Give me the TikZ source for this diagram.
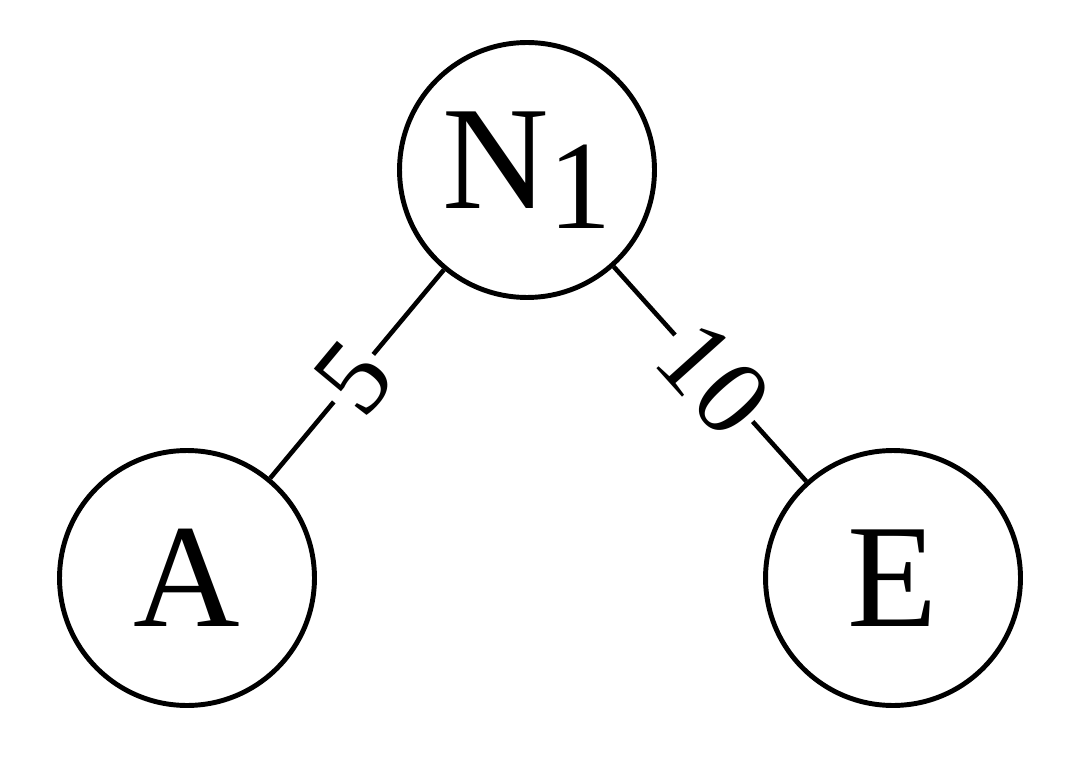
\documentclass[tikz,border=0pt]{standalone}
\usepackage{fontspec}
\setmainfont{Liberation Serif}
\begin{document}
\begin{tikzpicture}[x=0.02cm,y=-0.02cm,
  vtx/.style={circle,draw,line width=2.8pt,minimum size=5.1cm,inner sep=0pt,font=\fontsize{84}{90}\selectfont},
  edge/.style={line width=2.6pt},
  wlab/.style={fill=white,inner sep=2pt,sloped,font=\fontsize{62}{66}\selectfont}]
\useasboundingbox (0,0) rectangle (1084,780);
\node[vtx] (n) at (527,170) {N\raisebox{-0.4cm}{\fontsize{72}{72}\selectfont 1}};
\node[vtx] (a) at (187,578) {A};
\node[vtx] (e) at (893,578) {E};
\draw[edge] (a) -- node[wlab,pos=0.48] {5} (n);
\draw[edge] (n) -- node[wlab,pos=0.52] {10} (e);
\end{tikzpicture}
\end{document}
